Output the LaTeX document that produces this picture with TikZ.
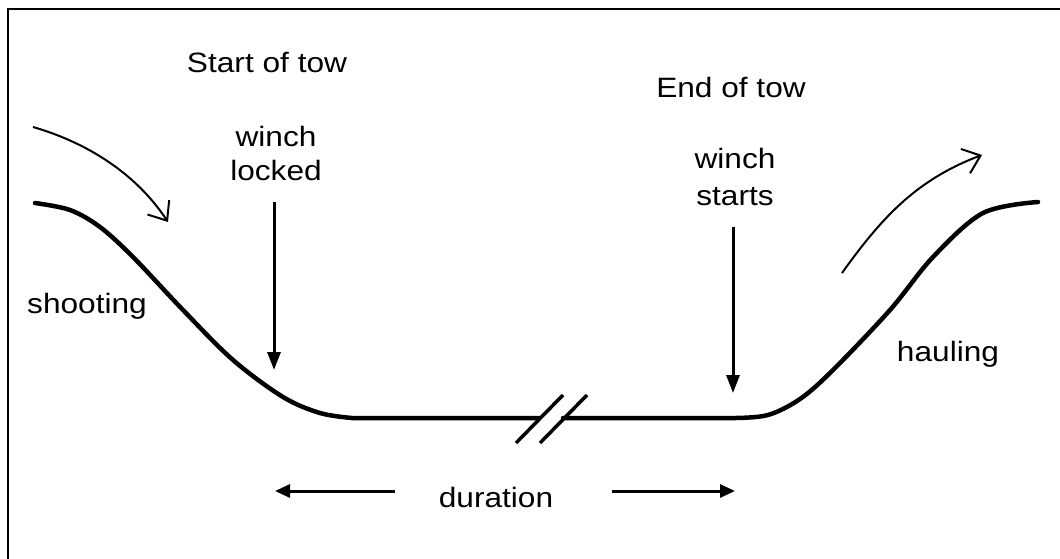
\documentclass[tikz,border=0pt]{standalone}
\usepackage{fontspec}
\setmainfont{Liberation Sans}
\usetikzlibrary{arrows.meta}
\newcommand\wtxt[1]{\scalebox{1.13}[1]{#1}}
\begin{document}
\begin{tikzpicture}[x=1pt,y=-1pt,
  lbl/.style={inner sep=0pt, anchor=base, font=\fontsize{28}{34}\selectfont},
  seabed/.style={line width=4.5pt, line cap=round, line join=round},
  flow/.style={line width=2pt, -{Straight Barb[length=16pt,width=26pt,line width=2pt]}},
  marker/.style={line width=3pt, -{Triangle[length=18pt,width=13pt]}},
  dur/.style={line width=3pt, -{Triangle[length=15pt,width=13pt]}},
  brk/.style={line width=3.5pt}]
\useasboundingbox (0,0) rectangle (1060,558);
\draw[line width=2pt] (8,600) -- (8,9) -- (1100,9);
% texts
\node[lbl] (start) at (267,72) {\wtxt{Start of tow}};
\node[lbl] (w1) at (276,146) {\wtxt{winch}};
\node[lbl] (w1b) at (276,180) {\wtxt{locked}};
\node[lbl] (end) at (731,97) {\wtxt{End of tow}};
\node[lbl] (w2) at (735,168) {\wtxt{winch}};
\node[lbl] (w2b) at (735,205) {\wtxt{starts}};
\node[lbl] (shoot) at (87,313) {\wtxt{shooting}};
\node[lbl] (haul) at (948,361) {\wtxt{hauling}};
\node[lbl] (dur) at (496,507) {\wtxt{duration}};
% seabed profile
\draw[seabed] plot[smooth, tension=0.55] coordinates {(35,203) (70,210) (100,227) (133,257) (183,310) (233,360) (283,397) (320,413) (352,418)} -- (539,418);
\draw[seabed] (563,418) -- (735,418) plot[smooth, tension=0.55] coordinates {(735,418) (768,415) (800,399) (833,370) (890,310) (933,257) (983,213) (1038,202)};
% break marks
\coordinate (b1a) at (516,443); \coordinate (b1b) at (563,395);
\coordinate (b2a) at (540,443); \coordinate (b2b) at (587,395);
\draw[brk] (b1a) -- (b1b);
\draw[brk] (b2a) -- (b2b);
% flow arrows
\draw[flow] (33,127) .. controls (85,142) and (135,172) .. (168,222);
\draw[flow] (842,273) .. controls (880,220) and (915,180) .. (982,155);
% marker arrows
\coordinate (m1s) at (274,202); \coordinate (m1e) at (274,370);
\coordinate (m2s) at (733,227); \coordinate (m2e) at (733,393);
\draw[marker] (m1s) -- (m1e);
\draw[marker] (m2s) -- (m2e);
% duration arrows
\coordinate (d1s) at (395,491); \coordinate (d1e) at (275,491);
\coordinate (d2s) at (612,491); \coordinate (d2e) at (735,491);
\draw[dur] (d1s) -- (d1e);
\draw[dur] (d2s) -- (d2e);
\end{tikzpicture}
\end{document}
